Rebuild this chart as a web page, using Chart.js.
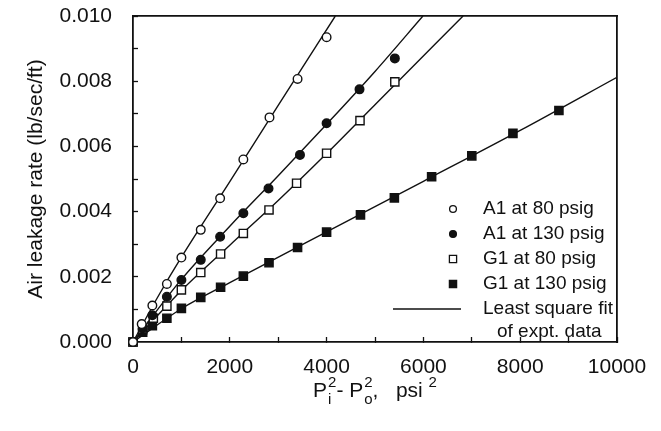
<!DOCTYPE html>
<html>
<head>
<meta charset="utf-8">
<script src="https://cdn.jsdelivr.net/npm/chart.js@4"></script>
<style>
  html, body { margin: 0; padding: 0; background: #fff; }
  canvas { display: block; }
</style>
</head>
<body>
<canvas id="leak" width="661" height="431"></canvas>
<script>
const a1_80_x = [0, 180, 400, 700, 1000, 1400, 1800, 2280, 2820, 3400, 4000];
const a1_80_y = [0, 0.00055, 0.00112, 0.00178, 0.00259, 0.00344, 0.00441, 0.00560, 0.00689, 0.00807, 0.00935];

const a1_130_x = [0, 200, 400, 700, 1000, 1400, 1800, 2280, 2800, 3450, 4000, 4680, 5410];
const a1_130_y = [0, 0.00040, 0.00082, 0.00139, 0.00190, 0.00252, 0.00323, 0.00395, 0.00471, 0.00574, 0.00671, 0.00775, 0.00870];

const g1_80_x = [0, 200, 420, 700, 1000, 1400, 1810, 2280, 2810, 3380, 4000, 4690, 5410];
const g1_80_y = [0, 0.00038, 0.00073, 0.00110, 0.00160, 0.00213, 0.00270, 0.00333, 0.00405, 0.00487, 0.00579, 0.00679, 0.00798];

const g1_130_x = [0, 200, 400, 700, 1000, 1400, 1810, 2280, 2810, 3400, 4000, 4700, 5400, 6170, 7000, 7850, 8800];
const g1_130_y = [0, 0.00030, 0.00050, 0.00073, 0.00103, 0.00137, 0.00168, 0.00202, 0.00243, 0.00290, 0.00337, 0.00390, 0.00442, 0.00507, 0.00571, 0.00640, 0.00710];

// least square fit curves
const fit_a1_80_x = [0, 500, 1000, 2000, 3000, 4180];
const fit_a1_80_y = [0, 0.00135, 0.00260, 0.00492, 0.00726, 0.0100];
const fit_a1_130_x = [0, 1000, 2000, 3000, 4000, 5000, 5990];
const fit_a1_130_y = [0, 0.00192, 0.00355, 0.00510, 0.00668, 0.00830, 0.0100];
const fit_g1_80_x = [0, 1000, 2000, 3000, 4000, 5000, 6820];
const fit_g1_80_y = [0, 0.00158, 0.00297, 0.00434, 0.00578, 0.00728, 0.0100];
const fit_g1_130_x = [0, 1000, 2000, 4000, 6000, 8000, 10000];
const fit_g1_130_y = [0, 0.00102, 0.00182, 0.00338, 0.00493, 0.00649, 0.00812];

const legendLabels = ['A1 at 80 psig', 'A1 at 130 psig', 'G1 at 80 psig', 'G1 at 130 psig'];
const fitLabel = ['Least square fit', 'of expt. data'];

const FONT = '"Liberation Sans", Arial, Helvetica, sans-serif';
const INK = '#111';

const pts = (xs, ys) => xs.map((x, i) => ({ x, y: ys[i] }));

const marker = (label, xs, ys, style, filled) => ({
  label,
  data: pts(xs, ys),
  showLine: false,
  pointStyle: style,
  pointRadius: style === 'rect' ? 5.8 : 4.3,
  pointBorderWidth: 1.4,
  pointBorderColor: INK,
  pointBackgroundColor: filled ? INK : '#fff',
  order: 0,
  clip: false,
});

const fit = (xs, ys) => ({
  label: 'fit',
  data: pts(xs, ys),
  showLine: true,
  borderColor: INK,
  borderWidth: 1.4,
  pointRadius: 0,
  cubicInterpolationMode: 'monotone',
  order: 5,
});

// axis titles and the in-plot legend
const decor = {
  id: 'decor',
  afterDraw(chart) {
    const { ctx, chartArea: a } = chart;
    ctx.save();
    ctx.strokeStyle = INK;
    ctx.fillStyle = INK;

    // y title
    ctx.save();
    ctx.translate(36, (a.top + a.bottom) / 2);
    ctx.rotate(-Math.PI / 2);
    ctx.font = '21px ' + FONT;
    ctx.textAlign = 'center';
    ctx.textBaseline = 'middle';
    ctx.fillText('Air leakage rate (lb/sec/ft)', 0, 0);
    ctx.restore();

    // x title: Pi^2 - Po^2,  psi^2
    const big = '21px ' + FONT, small = '15px ' + FONT;
    const base = 397;
    const parts = [
      ['P', big, 0], ['2|i', small, 0], ['- P', big, 0], ['2|o', small, 0],
      [',', big, 0], ['   psi ', big, 0], ['2', small, -10],
    ];
    const w = p => {
      ctx.font = p[1];
      if (p[0].includes('|')) return Math.max(...p[0].split('|').map(s => ctx.measureText(s).width)) + 1;
      return ctx.measureText(p[0]).width;
    };
    let cx = (a.left + a.right) / 2 - parts.reduce((s, p) => s + w(p), 0) / 2;
    ctx.textAlign = 'left';
    ctx.textBaseline = 'alphabetic';
    parts.forEach(p => {
      const pw = w(p);
      ctx.font = p[1];
      if (p[0].includes('|')) {
        const [sup, sub] = p[0].split('|');
        ctx.fillText(sup, cx + 1, base - 10);
        ctx.fillText(sub, cx + 1, base + 7);
      } else {
        ctx.fillText(p[0], cx, base + p[2]);
      }
      cx += pw;
    });

    // legend
    const mx = 453, tx = 483, rows = [209, 234, 259, 284];
    ctx.font = '19px ' + FONT;
    ctx.textBaseline = 'middle';
    legendLabels.forEach((lab, i) => {
      const yy = rows[i];
      const filled = i % 2 === 1;
      ctx.lineWidth = 1.3;
      ctx.fillStyle = filled ? INK : '#fff';
      ctx.beginPath();
      if (i < 2) ctx.arc(mx, yy, 3.4, 0, Math.PI * 2);
      else ctx.rect(mx - 3.6, yy - 3.6, 7.2, 7.2);
      ctx.fill();
      ctx.stroke();
      ctx.fillStyle = INK;
      ctx.fillText(lab, tx, yy);
    });
    ctx.lineWidth = 1.4;
    ctx.beginPath();
    ctx.moveTo(393, 309);
    ctx.lineTo(461, 309);
    ctx.stroke();
    ctx.fillText(fitLabel[0], tx, 309);
    ctx.fillText(fitLabel[1], tx + 14, 332);

    ctx.restore();
  }
};

const tickFont = { family: FONT, size: 21 };
const frameBorder = { display: true, color: INK, width: 1.8 };
const inwardTicks = { display: true, drawOnChartArea: false, drawTicks: true, tickLength: -5, tickWidth: 1.3, tickColor: INK };

new Chart(document.getElementById('leak'), {
  type: 'scatter',
  data: {
    datasets: [
      marker(legendLabels[0], a1_80_x, a1_80_y, 'circle', false),
      marker(legendLabels[1], a1_130_x, a1_130_y, 'circle', true),
      marker(legendLabels[2], g1_80_x, g1_80_y, 'rect', false),
      marker(legendLabels[3], g1_130_x, g1_130_y, 'rect', true),
      fit(fit_a1_80_x, fit_a1_80_y),
      fit(fit_a1_130_x, fit_a1_130_y),
      fit(fit_g1_80_x, fit_g1_80_y),
      fit(fit_g1_130_x, fit_g1_130_y),
    ]
  },
  options: {
    responsive: false,
    animation: false,
    layout: { padding: { left: 0, right: 44, top: 16, bottom: 0 } },
    plugins: { legend: { display: false }, tooltip: { enabled: false } },
    scales: {
      x: {
        type: 'linear', position: 'bottom', min: 0, max: 10000,
        grid: inwardTicks,
        border: frameBorder,
        ticks: { stepSize: 1000, autoSkip: false, padding: 18, maxRotation: 0, color: INK, font: tickFont,
          callback: v => (v % 2000 === 0 ? String(v) : '') },
        afterFit(s) { s.height = 89; s.paddingRight = 0; }
      },
      y: {
        type: 'linear', position: 'left', min: 0, max: 0.010,
        grid: inwardTicks,
        border: frameBorder,
        ticks: { stepSize: 0.001, autoSkip: false, padding: 26, color: INK, font: tickFont,
          callback: v => (Math.round(v * 1000) % 2 === 0 ? v.toFixed(3) : '') },
        afterFit(s) { s.width = 133; s.paddingTop = 0; }
      },
      xTop: {
        type: 'linear', position: 'top', axis: 'x', min: 0, max: 10000,
        grid: { display: false },
        border: frameBorder,
        ticks: { display: false },
        afterFit(s) { s.height = 0; }
      },
      yRight: {
        type: 'linear', position: 'right', axis: 'y', min: 0, max: 0.010,
        grid: { display: false },
        border: frameBorder,
        ticks: { display: false },
        afterFit(s) { s.width = 0; }
      }
    }
  },
  plugins: [decor]
});
</script>
</body>
</html>
